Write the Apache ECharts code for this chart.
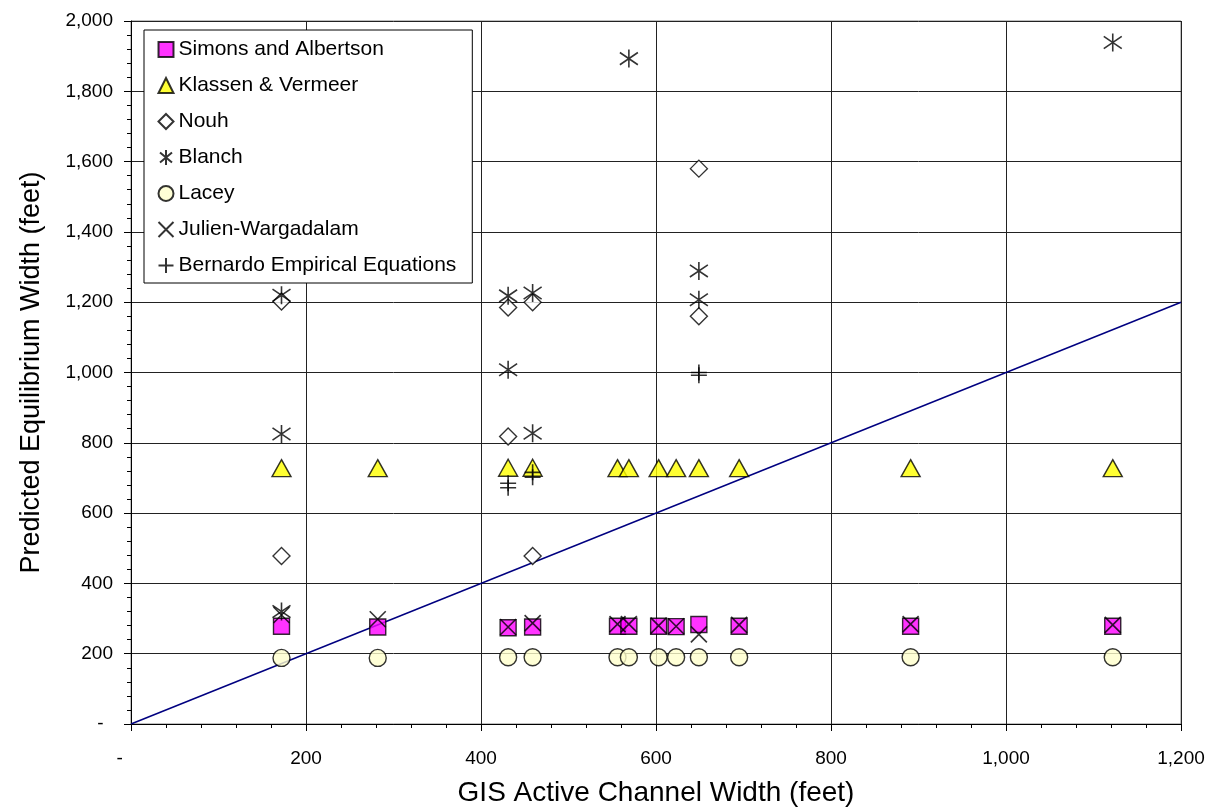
<!DOCTYPE html>
<html>
<head>
<meta charset="utf-8">
<script src="https://cdn.jsdelivr.net/npm/echarts@6/dist/echarts.min.js"></script>
<style>
  html, body { margin: 0; padding: 0; background: #fff; }
  #chart { width: 1217px; height: 812px; }
</style>
</head>
<body>
<div id="chart"></div>
<script>
// GIS active channel widths (feet) of the reaches
const channelWidth = [172, 282, 431, 459, 556, 569, 603, 623, 649, 695, 891, 1122]

// predicted widths at each reach (same order as channelWidth)
const simonsAlbertson = [278, 276, 274, 276, 278, 278, 278, 277, 283, 278, 278, 278]
const klassenVermeer = [728, 728, 729, 729, 728, 728, 728, 728, 728, 728, 728, 728]
const lacey = [188, 188, 190, 190, 190, 190, 190, 190, 190, 190, 190, 190]
const julienWargadalam = [310, 298, 276, 287, 284, 284, 280, 278, 255, 282, 284, 282]

// methods with only some reaches: [channel width, predicted width]
const nouh = [[172, 1202], [172, 478], [431, 1185], [431, 818], [459, 1200], [459, 478], [649, 1580], [649, 1160]]
const blanch = [[172, 1220], [172, 825], [172, 320], [431, 1218], [431, 1008], [459, 1226], [459, 827],
  [569, 1893], [649, 1289], [649, 1207], [1122, 1939]]
const bernardo = [[431, 685], [431, 672], [459, 716], [459, 702], [649, 1000], [649, 992]]

// 1:1 line
const equalLine = [[0, 0], [1200, 1200]]

const xTicks = { min: 0, max: 1200, interval: 200 }
const yTicks = { min: 0, max: 2000, interval: 200 }

const FONT = 'Liberation Sans, Arial, sans-serif'
const pair = (ys) => channelWidth.map((x, i) => [x, ys[i]])
// accounting style: zero shows as a dash with padding after it
const fmtY = (v) => v === 0 ? '-\u2002' : v.toLocaleString('en-US')
const fmtX = (v) => v === 0 ? '-\u2002\u2002\u2009' : v.toLocaleString('en-US')

const ASTERISK = 'path://M1,1.6L9,8.4M1,8.4L9,1.6M5,0L5,10'
const CROSS = 'path://M0,0L10,10M10,0L0,10'
const PLUS = 'path://M5,0L5,10M0,5L10,5'

const stroke = { color: 'none', borderColor: '#000', borderWidth: 1.6 }
const filled = (c) => ({ color: c, borderColor: '#000', borderWidth: 1.4 })

function scatter(name, data, symbol, size, itemStyle) {
  return { name, type: 'scatter', data, symbol, symbolSize: size, itemStyle, silent: true }
}

const chart = echarts.init(document.getElementById('chart'))

const axisCommon = {
  type: 'value',
  nameLocation: 'middle',
  nameTextStyle: { fontFamily: FONT, fontSize: 27, color: '#000' },
  axisLine: { show: true, lineStyle: { color: '#000', width: 1 } },
  axisTick: { show: true, length: 7, lineStyle: { color: '#000' } },
  minorTick: { show: true, splitNumber: 5, length: 4, lineStyle: { color: '#000' } },
  axisLabel: { fontFamily: FONT, fontSize: 19, color: '#000' },
  splitLine: { show: true, lineStyle: { color: '#222', width: 1 } }
}

chart.setOption({
  backgroundColor: '#fff',
  animation: false,
  grid: { left: 131, right: 36, top: 21, bottom: 84, show: true, borderColor: '#808080', borderWidth: 1 },
  legend: {
    orient: 'vertical',
    left: 144, top: 30,
    data: ['Simons and Albertson', 'Klassen & Vermeer', 'Nouh', 'Blanch', 'Lacey', 'Julien-Wargadalam', 'Bernardo Empirical Equations'],
    backgroundColor: '#fff',
    borderColor: '#000', borderWidth: 1,
    padding: [9, 16, 7, 12],
    itemGap: 15,
    itemWidth: 15, itemHeight: 15,
    textStyle: { fontFamily: FONT, fontSize: 21, color: '#000' }
  },
  xAxis: {
    ...axisCommon,
    ...xTicks,
    name: 'GIS Active Channel Width (feet)',
    nameGap: 55,
    nameTextStyle: { ...axisCommon.nameTextStyle, fontSize: 28 },
    axisLabel: { ...axisCommon.axisLabel, margin: 25, formatter: fmtX }
  },
  yAxis: {
    ...axisCommon,
    ...yTicks,
    name: 'Predicted Equilibrium Width (feet)',
    nameGap: 86,
    axisLabel: { ...axisCommon.axisLabel, margin: 18, formatter: fmtY }
  },
  series: [
    scatter('Simons and Albertson', pair(simonsAlbertson), 'rect', 16, filled('#FF00FF')),
    scatter('Klassen & Vermeer', pair(klassenVermeer), 'triangle', [19, 17], filled('#FFFF00')),
    scatter('Nouh', nouh, 'diamond', 17, filled('#FFFFFF')),
    scatter('Blanch', blanch, ASTERISK, 18, stroke),
    scatter('Lacey', pair(lacey), 'circle', 17, filled('#FFFFCC')),
    scatter('Julien-Wargadalam', pair(julienWargadalam), CROSS, 16, stroke),
    scatter('Bernardo Empirical Equations', bernardo, PLUS, 16, stroke),
    {
      name: '1:1', type: 'line', data: equalLine, symbol: 'none', silent: true,
      lineStyle: { color: '#000080', width: 1.5 }, z: 1
    }
  ]
})
</script>
</body>
</html>
